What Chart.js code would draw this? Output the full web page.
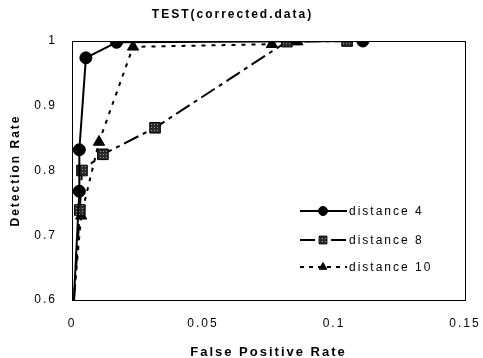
<!DOCTYPE html>
<html lang="en">
<head>
<meta charset="UTF-8">
<title>TEST(corrected.data)</title>
<script src="https://cdn.jsdelivr.net/npm/chart.js@4"></script>
<style>
  body { margin: 0; background: #fff; }
  #wrap { width: 483px; height: 358px; }
</style>
</head>
<body>
<div id="wrap"><canvas id="roc"></canvas></div>
<script>
    const seriesNames = ['distance 4', 'distance 8', 'distance 10'];

    // false positive rate (x) / detection rate (y)
    const dist4X = [0.0007, 0.0028, 0.0028, 0.0053, 0.017, 0.111];
    const dist4Y = [0.6, 0.768, 0.832, 0.974, 0.998, 1.0];

    const dist8X = [0.0008, 0.003, 0.0038, 0.0118, 0.0317, 0.082, 0.105];
    const dist8Y = [0.6, 0.739, 0.80, 0.825, 0.866, 0.999, 1.0];

    const dist10X = [0.0006, 0.0035, 0.0103, 0.0233, 0.0763, 0.086];
    const dist10Y = [0.6, 0.73, 0.844, 0.991, 0.995, 0.999];

    const xTicks = [0, 0.05, 0.1, 0.15];
    const yTicks = [0.6, 0.7, 0.8, 0.9, 1];

    const FONT = '"Liberation Sans", Arial, sans-serif';

    const toPoints = (xs, ys) => xs.map((x, i) => ({ x: x, y: ys[i] }));
    // first point is just where the line enters from below, no marker there
    const radii = (n, r) => Array.from({ length: n }, (_, i) => i === 0 ? 0 : r);

    // speckled grey fill for the square markers (scanned look)
    const speckle = (() => {
        const c = document.createElement('canvas');
        c.width = 3; c.height = 3;
        const g = c.getContext('2d');
        g.fillStyle = '#2a2a2a';
        g.fillRect(0, 0, 3, 3);
        g.fillStyle = '#9a9a9a';
        g.fillRect(1, 1, 1, 1);
        return g.createPattern(c, 'repeat');
    })();

    const styles = [
        { dash: [], legendDash: [], marker: 'circle', r: 6, lr: 4.5, fill: '#000' },
        { dash: [16, 5, 4, 5], legendDash: [15, 6, 4, 6], marker: 'rect', r: 7.5, lr: 5.5, fill: speckle },
        { dash: [4, 6], legendDash: [4, 5], marker: 'triangle', r: 6.5, lr: 4.5, fill: '#000' }
    ];
    const allX = [dist4X, dist8X, dist10X];
    const allY = [dist4Y, dist8Y, dist10Y];

    const datasets = seriesNames.map((name, i) => ({
        label: name,
        data: toPoints(allX[i], allY[i]),
        borderColor: '#000',
        borderWidth: 2,
        borderDash: styles[i].dash,
        backgroundColor: styles[i].fill,
        pointStyle: styles[i].marker,
        pointRadius: radii(allX[i].length, styles[i].r),
        pointBorderColor: '#000',
        pointBorderWidth: 1,
        fill: false,
        tension: 0
    }));

    // the original has widely spaced lettering
    const spacing = chart => { chart.ctx.letterSpacing = '2px'; };

    // box around the plot + legend inside the plot, like the original
    const framePlugin = {
        id: 'frame',
        beforeInit: spacing,
        beforeUpdate: spacing,
        beforeDraw: spacing,
        resize: spacing,
        beforeDatasetsDraw(chart) {
            const { ctx, chartArea: a } = chart;
            ctx.save();
            ctx.strokeStyle = '#000';
            ctx.lineWidth = 1;
            ctx.strokeRect(a.left + 0.5, a.top + 0.5, a.right - a.left, a.bottom - a.top);
            ctx.restore();
        },
        afterDraw(chart) {
            const { ctx } = chart;
            const x0 = 300, rows = [211, 240, 267];
            ctx.save();
            ctx.font = '12px ' + FONT;
            ctx.textBaseline = 'middle';
            seriesNames.forEach((name, i) => {
                const y = rows[i];
                const ds = chart.data.datasets[i];
                ctx.strokeStyle = '#000';
                ctx.lineWidth = 2;
                ctx.setLineDash(styles[i].legendDash);
                ctx.beginPath();
                ctx.moveTo(x0, y);
                ctx.lineTo(x0 + 47, y);
                ctx.stroke();
                ctx.setLineDash([]);
                ctx.fillStyle = ds.backgroundColor;
                ctx.strokeStyle = '#000';
                ctx.lineWidth = 1;
                Chart.helpers.drawPoint(ctx, {
                    pointStyle: ds.pointStyle, radius: styles[i].lr,
                    borderWidth: 1, rotation: 0
                }, x0 + 23, y);
                ctx.fillStyle = '#000';
                ctx.fillText(name, x0 + 49, y + 1);
            });
            ctx.restore();
        }
    };

    const ctx = document.getElementById('roc').getContext('2d');
    const chart = new Chart(ctx, {
        type: 'line',
        data: { datasets: datasets },
        plugins: [framePlugin],
        options: {
            responsive: true,
            maintainAspectRatio: false,
            animation: false,
            layout: { padding: { left: 0, right: 18, top: 0, bottom: 0 } },
            plugins: {
                legend: { display: false },
                tooltip: { enabled: false },
                title: {
                    display: true,
                    text: 'TEST(corrected.data)',
                    color: '#000',
                    font: { family: FONT, size: 12, weight: 'bold', lineHeight: 1.2 },
                    padding: { top: 7.5, bottom: 19.1 }
                }
            },
            scales: {
                x: {
                    type: 'linear',
                    min: 0,
                    max: 0.15,
                    afterFit: s => { s.height = 58; s.paddingLeft = 0; s.paddingRight = 0; },
                    afterBuildTicks: s => { s.ticks = xTicks.map(v => ({ value: v })); },
                    grid: { display: false, drawTicks: false },
                    border: { display: true, color: '#000', width: 1 },
                    ticks: {
                        color: '#000', padding: 16, maxRotation: 0,
                        font: { family: FONT, size: 12 },
                        callback: v => String(v)
                    },
                    title: {
                        display: true, text: 'False Positive Rate', color: '#000',
                        font: { family: FONT, size: 13, weight: 'bold' },
                        padding: { top: 0, bottom: -2 }
                    }
                },
                y: {
                    type: 'linear',
                    min: 0.6,
                    max: 1,
                    afterFit: s => { s.width = 72; s.paddingTop = 0; s.paddingBottom = 0; },
                    afterBuildTicks: s => { s.ticks = yTicks.map(v => ({ value: v })); },
                    grid: { display: false, drawTicks: false },
                    border: { display: true, color: '#000', width: 1 },
                    ticks: {
                        color: '#000', padding: 15,
                        font: { family: FONT, size: 12 },
                        callback: v => String(v)
                    },
                    title: {
                        display: true, text: 'Detection Rate', color: '#000',
                        font: { family: FONT, size: 12, weight: 'bold' },
                        padding: { top: 8, bottom: 0 }
                    }
                }
            }
        }
    });
</script>
</body>
</html>
